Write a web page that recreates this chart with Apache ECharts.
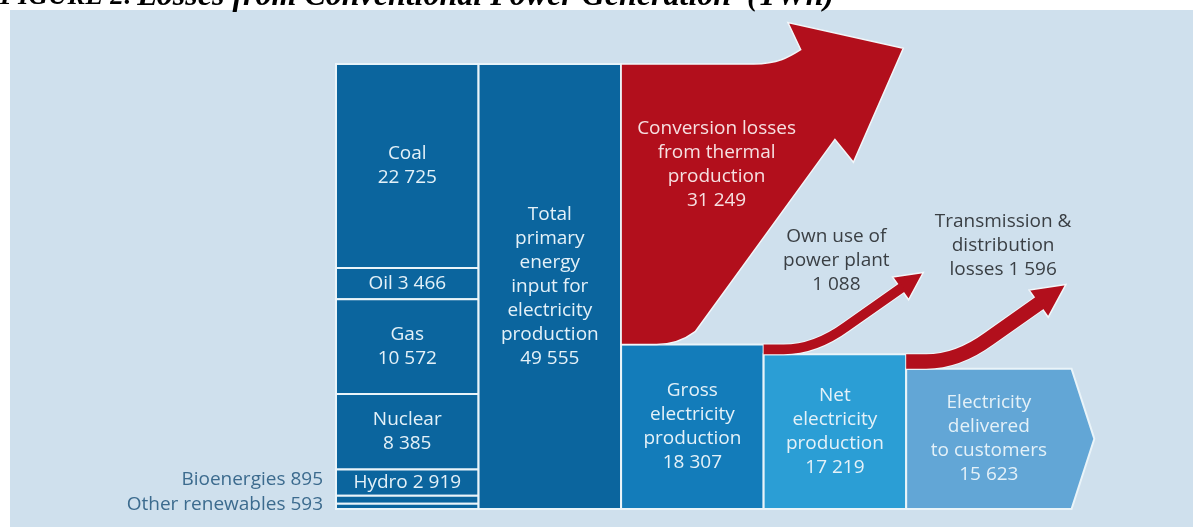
<!DOCTYPE html>
<html>
<head>
<meta charset="utf-8">
<title>Losses from Conventional Power Generation</title>
<script src="https://cdn.jsdelivr.net/npm/echarts@6/dist/echarts.min.js"></script>
<style>
  html, body { margin: 0; padding: 0; background: #fff; }
  #chart { width: 1193px; height: 527px; }
</style>
</head>
<body>
<div id="chart"></div>
<script>
// all values in TWh
const sourceNames = ['Coal', 'Oil', 'Gas', 'Nuclear', 'Hydro', 'Bioenergies', 'Other renewables'];
const sourceValues = [22725, 3466, 10572, 8385, 2919, 895, 593];

const stageNames = [
    'Total\nprimary\nenergy\ninput for\nelectricity\nproduction',
    'Gross\nelectricity\nproduction',
    'Net\nelectricity\nproduction',
    'Electricity\ndelivered\nto customers'
];
const stageValues = [49555, 18307, 17219, 15623];

const lossNames = [
    'Conversion losses\nfrom thermal\nproduction\n{v}',
    'Own use of\npower plant\n{v}',
    'Transmission &\ndistribution\nlosses {v}'
];
const lossValues = [31249, 1088, 1596];

// styling
const darkBlue = '#0b659e';
const stageColors = [darkBlue, '#137cba', '#2b9ed5', '#62a6d6'];
const lossColor = '#b20f1c';
const edgeColor = '#eaf4f9';
const FONT = 'Open Sans';

const fmt = v => String(v).replace(/\B(?=(\d{3})+(?!\d))/g, ' ');

// blocks: sources stacked in column 0, stages in columns 1..4
const total = stageValues[0];
const blocks = [];
let stackTop = total;
let outsideRank = sourceValues.filter(v => v / total < 0.02).length;
sourceValues.forEach((v, i) => {
    const share = v / total;
    let mode = 'one';
    if (share > 0.12) mode = 'two';
    if (share < 0.02) mode = 'outside';
    blocks.push({
        value: [0, stackTop - v, stackTop],
        text: mode === 'two' ? sourceNames[i] + '\n' + fmt(v) : sourceNames[i] + ' ' + fmt(v),
        mode: mode,
        rank: mode === 'outside' ? --outsideRank : 0,
        color: darkBlue,
        span: 1,
        point: 0
    });
    stackTop -= v;
});
stageValues.forEach((v, i) => {
    const last = i === stageValues.length - 1;
    blocks.push({
        value: [i + 1, 0, v],
        text: stageNames[i] + '\n' + fmt(v),
        mode: 'inside',
        color: stageColors[i],
        span: last ? 1.16 : 1,
        point: last ? 0.16 : 0
    });
});

// each loss is the band between the stage it leaves and the stage after it:
// it starts at the left edge of column i + 2, from value stageValues[i + 1] up to stageValues[i + 1] + loss
const losses = lossValues.map((v, i) => ({
    value: [i + 2, stageValues[i + 1], stageValues[i + 1] + v],
    text: lossNames[i].replace('{v}', fmt(v))
}));

const lossLabelOffset = [null, [-0.61, -0.08], [-0.44, -0.27]];

function textEl(text, x, y, color, align) {
    return {
        type: 'text',
        style: {
            text: text, x: x, y: y,
            align: align || 'center', verticalAlign: 'middle',
            fill: color, fontSize: 19, fontFamily: FONT, lineHeight: 24
        }
    };
}

function renderBlock(params, api) {
    const b = blocks[params.dataIndex];
    const x = api.value(0), low = api.value(1), high = api.value(2);
    const tl = api.coord([x, high]);
    const br = api.coord([x + b.span, low]);
    const u = api.size([1, 0])[0];
    const style = { fill: b.color, stroke: edgeColor, lineWidth: 2 };
    let body;
    if (b.point) {
        body = {
            type: 'polygon',
            shape: { points: [tl, [br[0], tl[1]], [br[0] + b.point * u, (tl[1] + br[1]) / 2], [br[0], br[1]], [tl[0], br[1]]] },
            style: style
        };
    } else {
        body = { type: 'rect', shape: { x: tl[0], y: tl[1], width: br[0] - tl[0], height: br[1] - tl[1] }, style: style };
    }
    const children = [body];
    const cx = (tl[0] + br[0]) / 2, cy = (tl[1] + br[1]) / 2;
    if (b.mode === 'outside') {
        const bottom = api.coord([0, 0])[1];
        children.push(textEl(b.text, tl[0] - 13, Math.min(cy, bottom - 4 - 25 * b.rank), '#3c6b8e', 'right'));
    } else {
        children.push(textEl(b.text, cx, cy, '#e4f1f8'));
    }
    return { type: 'group', children: children };
}

function renderLoss(params, api) {
    const i = params.dataIndex;
    const x = api.value(0), low = api.value(1), high = api.value(2);
    const a = api.coord([x, high]);
    const b = api.coord([x, low]);
    const u = api.size([1, 0])[0];
    const x0 = a[0];

    if (i === 0) {
        const yt = a[1], yb = b[1];
        const P = (dx, y) => (x0 + dx * u).toFixed(1) + ' ' + y.toFixed(1);
        const d = 'M' + P(0, yt) +
            ' L' + P(0.93, yt) +
            ' C' + P(1.10, yt) + ' ' + P(1.18, yt - 0.05 * u) + ' ' + P(1.26, yt - 0.10 * u) +
            ' L' + P(1.17, yt - 0.29 * u) +
            ' L' + P(1.98, yt - 0.11 * u) +
            ' L' + P(1.63, yt + 0.69 * u) +
            ' L' + P(1.50, yt + 0.53 * u) +
            ' L' + P(0.52, yb - 0.09 * u) +
            ' Q' + P(0.40, yb) + ' ' + P(0.25, yb) +
            ' L' + P(0, yb) + ' Z';
        return {
            type: 'group',
            children: [
                { type: 'path', shape: { pathData: d }, style: { fill: lossColor, stroke: '#f2f7fa', lineWidth: 1.5 } },
                textEl(losses[i].text, x0 + 0.67 * u, yt + 0.36 * (yb - yt), '#f6e0e1')
            ]
        };
    }

    const yc = (a[1] + b[1]) / 2;
    const t = b[1] - a[1];
    const px = x0 + 0.58 * u, py = yc - 0.16 * u;
    const tip = [x0 + 1.12 * u, yc - 0.54 * u];
    let dx = tip[0] - px, dy = tip[1] - py;
    const len = Math.sqrt(dx * dx + dy * dy);
    dx /= len; dy /= len;
    const hw = 8 + 0.6 * t, hl = 2 * hw;
    const hb = [tip[0] - dx * hl, tip[1] - dy * hl];
    const shaftEnd = [hb[0] + dx * 3, hb[1] + dy * 3];
    const d = 'M' + x0 + ' ' + yc +
        ' L' + (x0 + 0.14 * u) + ' ' + yc +
        ' Q' + (x0 + 0.36 * u) + ' ' + yc + ' ' + px + ' ' + py +
        ' L' + shaftEnd[0] + ' ' + shaftEnd[1];
    const head = [tip, [hb[0] - dy * hw, hb[1] + dx * hw], [hb[0] + dy * hw, hb[1] - dx * hw]];
    const off = lossLabelOffset[i];
    return {
        type: 'group',
        children: [
            { type: 'path', shape: { pathData: d }, style: { fill: null, stroke: '#f2f7fa', lineWidth: t + 2 } },
            { type: 'polygon', shape: { points: head }, style: { fill: lossColor, stroke: '#f2f7fa', lineWidth: 1.5 } },
            { type: 'path', shape: { pathData: d }, style: { fill: null, stroke: lossColor, lineWidth: t } },
            textEl(losses[i].text, tip[0] + off[0] * u, tip[1] + off[1] * u, '#3a3f44')
        ]
    };
}

const chart = echarts.init(document.getElementById('chart'));
chart.setOption({
    animation: false,
    backgroundColor: '#ffffff',
    title: {
        text: '{a|FIGURE 2:} {b|Losses from Conventional Power Generation  (TWh)}',
        left: 0,
        top: -19,
        padding: 0,
        textStyle: {
            fontFamily: 'Liberation Serif', fontStyle: 'italic', fontWeight: 'bold', color: '#000',
            rich: {
                a: { fontFamily: 'Liberation Serif', fontStyle: 'italic', fontWeight: 'bold', fontSize: 27, lineHeight: 32, color: '#000' },
                b: { fontFamily: 'Liberation Serif', fontStyle: 'italic', fontWeight: 'bold', fontSize: 32, lineHeight: 32, color: '#000' }
            }
        }
    },
    graphic: [{
        type: 'rect', left: 10, top: 10, z: -10,
        shape: { width: 1183, height: 517 },
        style: { fill: '#cfe0ed' }
    }],
    grid: { left: 336, right: 73, top: 15, bottom: 18 },
    xAxis: { type: 'value', min: 0, max: 5.5, show: false },
    yAxis: { type: 'value', min: 0, max: 55000, show: false },
    series: [
        { type: 'custom', name: 'blocks', renderItem: renderBlock, encode: { x: 0, y: [1, 2] }, data: blocks, clip: false },
        { type: 'custom', name: 'losses', renderItem: renderLoss, encode: { x: 0, y: [1, 2] }, data: losses, clip: false }
    ]
});
</script>
</body>
</html>
